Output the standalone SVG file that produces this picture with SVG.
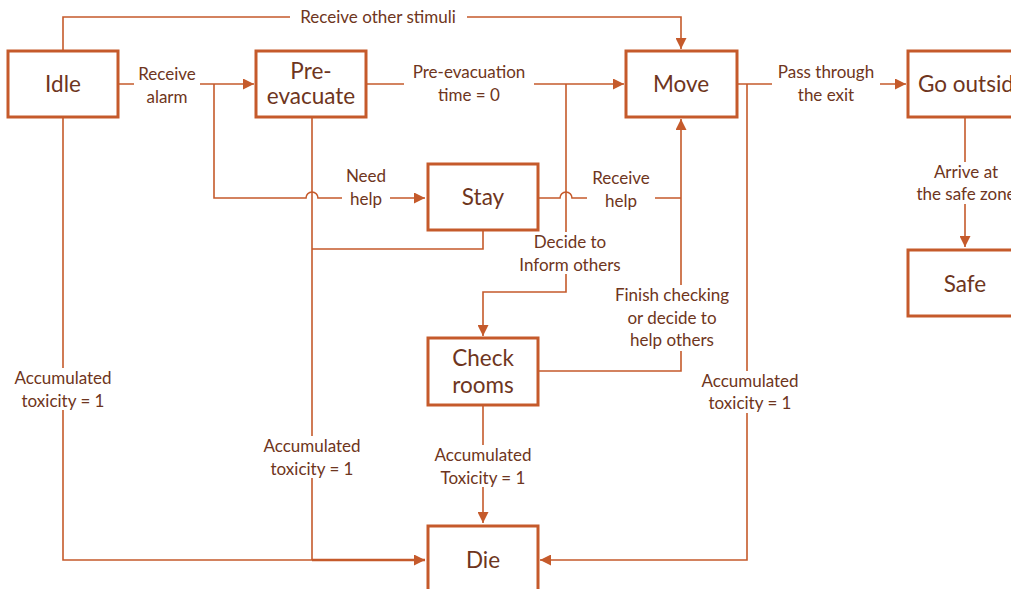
<svg xmlns="http://www.w3.org/2000/svg" width="1011" height="589" viewBox="0 0 1011 589">
<style>
.n{fill:#fff;stroke:#C55A2B;stroke-width:3}
.nt{font-family:Lato,"Open Sans",sans-serif;font-size:22.5px;fill:#6E3520;text-anchor:middle}
.c{fill:none;stroke:#C55A2B;stroke-width:1.6}
.l{font-family:Lato,"Open Sans",sans-serif;font-size:17px;fill:#6E3520;text-anchor:middle}
.bg{fill:#fff}
</style>
<defs>
<marker id="b" viewBox="0 0 10 10" refX="10" refY="5" markerWidth="11" markerHeight="11" markerUnits="userSpaceOnUse" orient="auto"><path d="M0,0L10,5L0,10z" fill="#C55A2B"/></marker>
</defs>
<g id="connectors">
<path class="c" d="M63,51V17H681V49" marker-end="url(#b)"/>
<path class="c" d="M118,84H254" marker-end="url(#b)"/>
<path class="c" d="M214,84V198H306a6,6 0 0 1 12,0H425" marker-end="url(#b)"/>
<path class="c" d="M312,117V560"/>
<path class="c" d="M483,230V249H312"/>
<path class="c" d="M366,84H624" marker-end="url(#b)"/>
<path class="c" d="M566,84V292H483V336" marker-end="url(#b)"/>
<path class="c" d="M538,198H560a6,6 0 0 1 12,0H681"/>
<path class="c" d="M538,371H681V119" marker-end="url(#b)"/>
<path class="c" d="M737,84H906" marker-end="url(#b)"/>
<path class="c" d="M747,84V560H540" marker-end="url(#b)"/>
<path class="c" d="M965,117V247" marker-end="url(#b)"/>
<path class="c" d="M483,405V523" marker-end="url(#b)"/>
<path class="c" d="M63,117V560H312"/>
<path class="c" style="stroke-width:2.6" d="M312,560H425" marker-end="url(#b)"/>
</g>
<g id="labels">
<rect class="bg" x="290" y="8" width="177" height="19"/>
<text class="l" x="378" y="23">Receive other stimuli</text>
<rect class="bg" x="134" y="64" width="66" height="42"/>
<text class="l" x="167" y="80">Receive</text>
<text class="l" x="167" y="103">alarm</text>
<rect class="bg" x="342" y="166" width="48" height="42"/>
<text class="l" x="366" y="182">Need</text>
<text class="l" x="366" y="205">help</text>
<rect class="bg" x="404" y="62" width="130" height="42"/>
<text class="l" x="469" y="78">Pre-evacuation</text>
<text class="l" x="469" y="101">time = 0</text>
<rect class="bg" x="587" y="168" width="68" height="42"/>
<text class="l" x="621" y="184">Receive</text>
<text class="l" x="621" y="207">help</text>
<rect class="bg" x="512" y="232" width="118" height="42"/>
<text class="l" x="570" y="248">Decide to</text>
<text class="l" x="570" y="271">Inform others</text>
<rect class="bg" x="608" y="285" width="128" height="66"/>
<text class="l" x="672" y="301">Finish checking</text>
<text class="l" x="672" y="324">or decide to</text>
<text class="l" x="672" y="346">help others</text>
<rect class="bg" x="772" y="62" width="108" height="42"/>
<text class="l" x="826" y="78">Pass through</text>
<text class="l" x="826" y="101">the exit</text>
<rect class="bg" x="910" y="162" width="101" height="42"/>
<text class="l" x="966" y="178">Arrive at</text>
<text class="l" x="966" y="200">the safe zone</text>
<rect class="bg" x="8" y="368" width="110" height="42"/>
<text class="l" x="63" y="384">Accumulated</text>
<text class="l" x="63" y="407">toxicity = 1</text>
<rect class="bg" x="257" y="436" width="110" height="42"/>
<text class="l" x="312" y="452">Accumulated</text>
<text class="l" x="312" y="475">toxicity = 1</text>
<rect class="bg" x="428" y="445" width="110" height="42"/>
<text class="l" x="483" y="461">Accumulated</text>
<text class="l" x="483" y="484">Toxicity = 1</text>
<rect class="bg" x="695" y="371" width="110" height="42"/>
<text class="l" x="750" y="387">Accumulated</text>
<text class="l" x="750" y="409">toxicity = 1</text>
</g>
<g id="idle"><rect class="n" x="8" y="51" width="110" height="66"/><text class="nt" x="63" y="92">Idle</text></g>
<g id="pre-evacuate"><rect class="n" x="256" y="51" width="110" height="66"/><text class="nt" x="311" y="79">Pre-</text><text class="nt" x="311" y="104">evacuate</text></g>
<g id="move"><rect class="n" x="626" y="51" width="111" height="66"/><text class="nt" x="681" y="92">Move</text></g>
<g id="go-outside"><rect class="n" x="908" y="51" width="120" height="66"/><text class="nt" x="918" y="92" style="text-anchor:start">Go outside</text></g>
<g id="safe"><rect class="n" x="908" y="250" width="120" height="66"/><text class="nt" x="965" y="292">Safe</text></g>
<g id="stay"><rect class="n" x="428" y="164" width="110" height="66"/><text class="nt" x="483" y="205">Stay</text></g>
<g id="check-rooms"><rect class="n" x="428" y="338" width="110" height="67"/><text class="nt" x="483" y="366">Check</text><text class="nt" x="483" y="393">rooms</text></g>
<g id="die"><rect class="n" x="428" y="526" width="110" height="80"/><text class="nt" x="483" y="568">Die</text></g>
</svg>
